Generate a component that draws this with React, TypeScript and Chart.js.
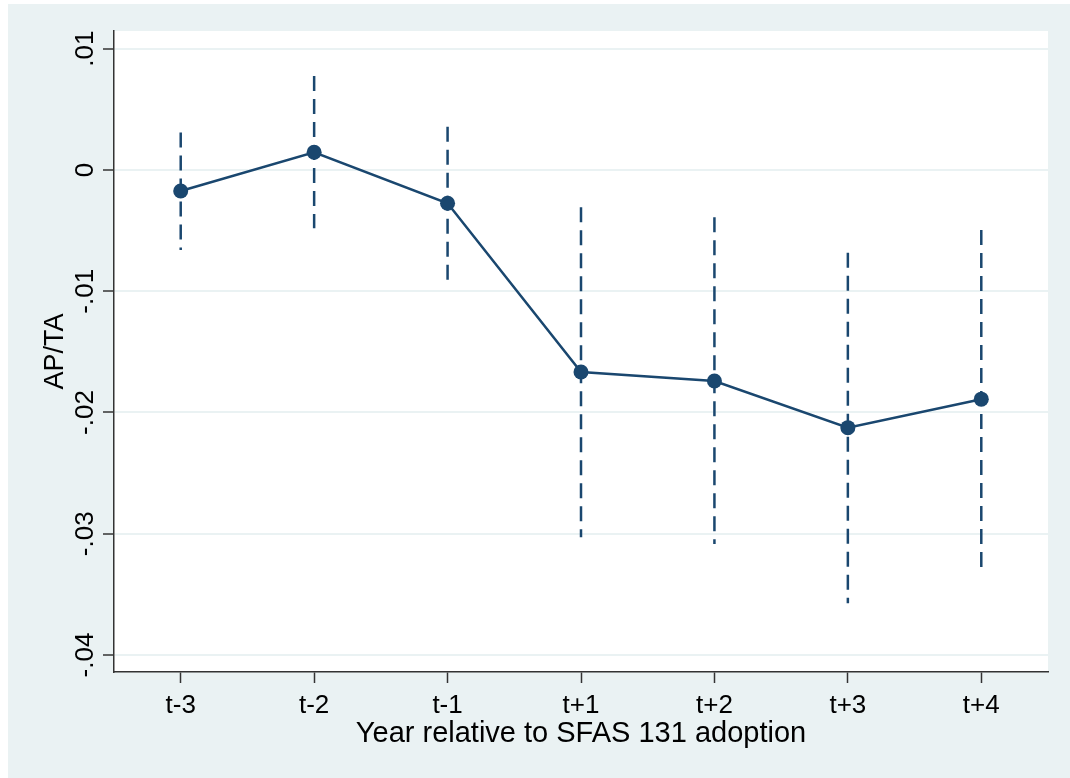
import React, { useEffect, useRef } from "react";
import { Chart, registerables } from "chart.js";

Chart.register(...registerables);

const CATEGORIES = ["t-3", "t-2", "t-1", "t+1", "t+2", "t+3", "t+4"];
const ESTIMATES = [-0.00173, 0.00146, -0.00275, -0.01666, -0.0174, -0.02125, -0.0189];
const UPPER = [0.0031, 0.00775, 0.00357, -0.00308, -0.0039, -0.00682, -0.00495];
const LOWER = [-0.0066, -0.0048, -0.00913, -0.03028, -0.03085, -0.03574, -0.03285];
const Y_TICKS = [0.01, 0, -0.01, -0.02, -0.03, -0.04];
const Y_TICK_LABELS = [".01", "0", "-.01", "-.02", "-.03", "-.04"];
const Y_MIN = -0.0414;
const Y_MAX = 0.01146;
const X_TITLE = "Year relative to SFAS 131 adoption";
const Y_TITLE = "AP/TA";

const NAVY = "#1a476f";
const PANEL = "#eaf2f3";
const AXIS = "#333333";
const FONT = "Arial, 'Liberation Sans', sans-serif";

const plotBg = {
  id: "plotBg",
  beforeDraw(chart: any) {
    const { ctx, chartArea } = chart;
    ctx.save();
    ctx.fillStyle = "#ffffff";
    ctx.fillRect(chartArea.left, chartArea.top, chartArea.right - chartArea.left, chartArea.bottom - chartArea.top);
    ctx.restore();
  },
};

const errorBars = {
  id: "errorBars",
  beforeDatasetsDraw(chart: any) {
    const { ctx } = chart;
    const xs = chart.scales.x;
    const ys = chart.scales.y;
    ctx.save();
    ctx.strokeStyle = NAVY;
    ctx.lineWidth = 2.5;
    ctx.setLineDash([15, 8]);
    ctx.lineCap = "butt";
    CATEGORIES.forEach((_, i) => {
      const x = xs.getPixelForValue(i);
      ctx.beginPath();
      ctx.moveTo(x, ys.getPixelForValue(UPPER[i]));
      ctx.lineTo(x, ys.getPixelForValue(LOWER[i]));
      ctx.stroke();
    });
    ctx.restore();
  },
};

const texts = {
  id: "texts",
  afterDraw(chart: any) {
    const { ctx, chartArea } = chart;
    const xs = chart.scales.x;
    const ys = chart.scales.y;
    ctx.save();
    ctx.fillStyle = "#000000";
    ctx.textAlign = "center";
    ctx.textBaseline = "alphabetic";
    ctx.font = `26px ${FONT}`;
    Y_TICKS.forEach((v, i) => {
      const y = ys.getPixelForValue(v);
      ctx.save();
      ctx.translate(85, y);
      ctx.rotate(-Math.PI / 2);
      ctx.fillText(Y_TICK_LABELS[i], 0, 0);
      ctx.restore();
    });
    CATEGORIES.forEach((c, i) => {
      ctx.fillText(c, xs.getPixelForValue(i), 709);
    });
    ctx.font = `27px ${FONT}`;
    ctx.save();
    ctx.translate(55, (chartArea.top + chartArea.bottom) / 2);
    ctx.rotate(-Math.PI / 2);
    ctx.fillText(Y_TITLE, 0, 0);
    ctx.restore();
    ctx.font = `29px ${FONT}`;
    ctx.fillText(X_TITLE, (chartArea.left + chartArea.right) / 2, 738);
    ctx.restore();
  },
};

export default function App() {
  const ref = useRef<HTMLCanvasElement | null>(null);
  useEffect(() => {
    if (!ref.current) return;
    const chart = new Chart(ref.current, {
      type: "line",
      data: {
        labels: CATEGORIES,
        datasets: [
          {
            data: ESTIMATES,
            borderColor: NAVY,
            backgroundColor: NAVY,
            borderWidth: 2.5,
            pointRadius: 7.5,
            pointBackgroundColor: NAVY,
            pointBorderColor: NAVY,
            pointBorderWidth: 0,
            tension: 0,
            fill: false,
          },
        ],
      },
      options: {
        responsive: false,
        animation: false,
        devicePixelRatio: 1,
        layout: { padding: { top: 27, right: 22, left: 0, bottom: 0 } },
        plugins: { legend: { display: false }, tooltip: { enabled: false } },
        scales: {
          x: {
            type: "category",
            offset: true,
            grid: {
              offset: false,
              drawOnChartArea: false,
              drawTicks: true,
              tickLength: 11,
              tickColor: AXIS,
              tickWidth: 1.5,
            },
            border: { color: AXIS, width: 1.5 },
            ticks: { display: false },
            afterFit(scale: any) {
              scale.height = 106;
            },
          },
          y: {
            type: "linear",
            min: Y_MIN,
            max: Y_MAX,
            afterBuildTicks(scale: any) {
              scale.ticks = Y_TICKS.map((v) => ({ value: v }));
            },
            grid: {
              color: PANEL,
              lineWidth: 2,
              drawTicks: true,
              tickLength: 11,
              tickColor: AXIS,
              tickWidth: 1.5,
            },
            border: { color: AXIS, width: 1.5 },
            ticks: { display: false },
            afterFit(scale: any) {
              scale.width = 106;
            },
          },
        },
      },
      plugins: [plotBg, errorBars, texts],
    });
    return () => chart.destroy();
  }, []);
  return (
    <div
      style={{
        position: "absolute",
        left: 8,
        top: 4,
        width: 1062,
        height: 774,
        background: PANEL,
      }}
    >
      <canvas ref={ref} width={1062} height={774} style={{ display: "block" }} />
    </div>
  );
}
